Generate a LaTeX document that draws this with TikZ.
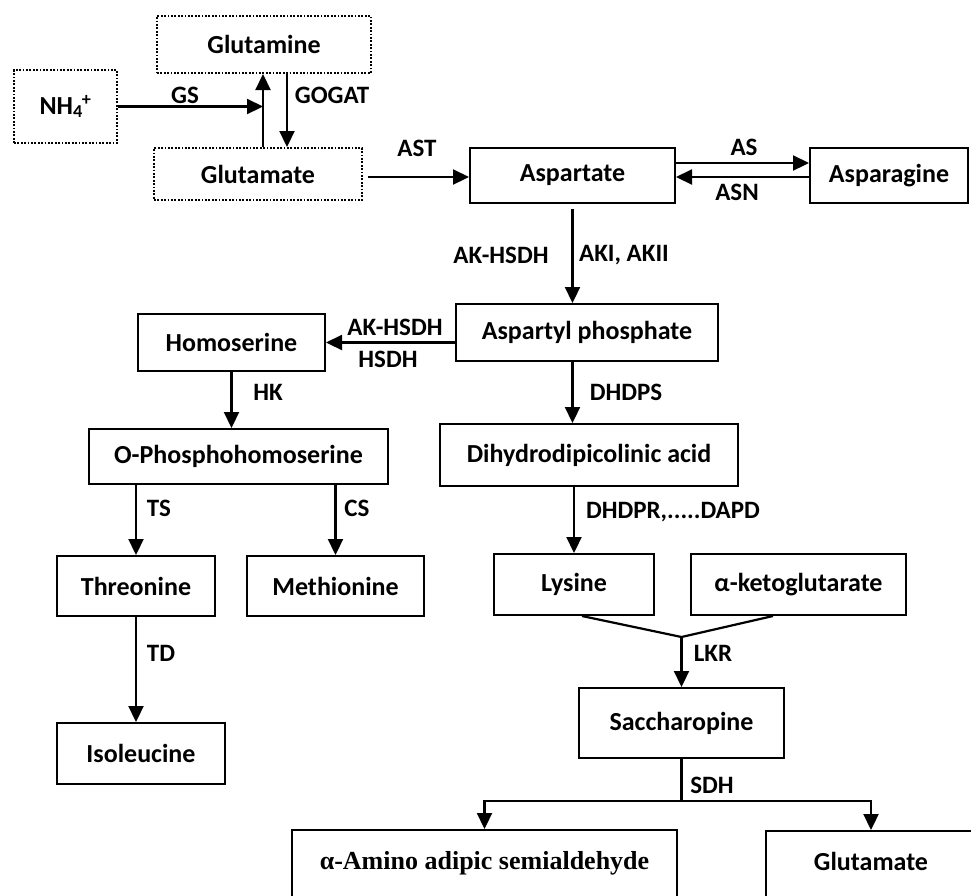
\documentclass[tikz,border=0pt]{standalone}
\usepackage{fontspec}
\setmainfont{Carlito}
\newfontfamily\serifbold{Liberation Serif}
\usetikzlibrary{calc,arrows.meta}

\tikzset{
  box/.style 2 args={draw, line width=2pt, inner sep=0pt, minimum width=#1pt, minimum height=#2pt,
    font=\fontsize{26}{30}\selectfont\bfseries},
  dotbox/.style 2 args={box={#1}{#2}, line width=2pt, dash pattern=on 1.8pt off 1.6pt},
  cutbox/.style 2 args={box={#1}{#2}, text height=18pt, text depth=18pt},
  lbl/.style={inner sep=0pt, font=\fontsize{25}{30}\selectfont\bfseries},
  arr/.style={line width=2.2pt, -{Triangle[width=15pt,length=16pt]}},
  joint/.style={line width=2.2pt}
}

\begin{document}
\begin{tikzpicture}[x=1pt,y=-1pt]
  \clip (0,0) rectangle (971,895);
  % nitrogen assimilation
  \node[dotbox={103}{73}] (nh4) at (65.5,106.5) {NH\textsubscript{4}\kern-1pt\textsuperscript{+}};
  \node[dotbox={214}{57}] (gln) at (264,44.5) {Glutamine};
  \node[dotbox={208}{52}] (glu) at (258,174) {Glutamate};
  \coordinate (gs) at (263,106.5);
  \coordinate (gog) at (287,106.5);
  \draw[arr] (nh4.east) -- (gs);
  \draw[arr] (glu.north -| gs) -- (gln.south -| gs);
  \draw[arr] (gln.south -| gog) -- (glu.north -| gog);
  \node[lbl] at (185,95) {GS};
  \node[lbl] at (332,95) {GOGAT};

  % aspartate and asparagine
  \node[box={205}{55}] (asp) at (572.5,175.5) {Aspartate};
  \node[box={158}{55}] (asn) at (889,175.5) {Asparagine};
  \draw[arr] ([xshift=5pt,yshift=-3pt]glu.east) -- ([yshift=-3pt]asp.west |- glu.east);
  \draw[arr] ([yshift=12.5pt]asp.east) -- ([yshift=12.5pt]asn.west);
  \draw[arr] ([yshift=-1.5pt]asn.west) -- ([yshift=-1.5pt]asp.east);
  \node[lbl] at (417,148) {AST};
  \node[lbl] at (744,147) {AS};
  \node[lbl] at (737,192) {ASN};

  \node[box={262}{57}] (ap) at (587,332.5) {Aspartyl phosphate};
  \draw[arr] ([yshift=-5pt]asp.south) -- (ap.north -| asp.south);
  \node[lbl] at (501,255) {AK-HSDH};
  \node[lbl] at (624,255) {AKI, AKII};

  % threonine / methionine / isoleucine branch
  \node[box={187}{57}] (hse) at (231.5,342.5) {Homoserine};
  \draw[arr] (ap.west |- hse) -- (hse.east);
  \node[lbl] at (395,327) {AK-HSDH};
  \node[lbl] at (388,359) {HSDH};
  \node[box={299}{55}] (oph) at (238.5,456.5) {O-Phosphohomoserine};
  \draw[arr] (hse.south) -- (hse.south |- oph.north);
  \node[lbl] at (268,392) {HK};
  \node[box={158}{60}] (thr) at (136,586) {Threonine};
  \node[box={177}{60}] (met) at (335.5,586) {Methionine};
  \draw[arr] (thr.north |- oph.south) -- (thr.north);
  \draw[arr] (met.north |- oph.south) -- (met.north);
  \node[lbl] at (159,508) {TS};
  \node[lbl] at (357,508) {CS};
  \node[box={168}{61}] (ile) at (141,753.5) {Isoleucine};
  \draw[arr] (thr.south) -- (thr.south |- ile.north);
  \node[lbl] at (161,653) {TD};

  % lysine branch
  \node[box={298}{62}] (dhdp) at (589,455) {Dihydrodipicolinic acid};
  \draw[arr] (ap.south -| asp.south) -- (dhdp.north -| asp.south);
  \node[lbl] at (626,392) {DHDPS};
  \node[box={160}{61}] (lys) at (574,584.5) {Lysine};
  \node[box={215}{61}] (akg) at (798.5,584.5) {α-ketoglutarate};
  \draw[arr] (dhdp.south -| lys.north) -- (lys.north);
  \node[lbl] at (673,512) {DHDPR,.....DAPD};
  \coordinate (lkr) at (681.5,637);
  \draw[joint] ([xshift=8pt]lys.south) -- (lkr) -- ([xshift=-25.5pt]akg.south);
  \node[box={205}{70}] (sac) at (681.5,723) {Saccharopine};
  \draw[arr] (lkr) -- (sac.north);
  \node[lbl] at (713,653) {LKR};
  \coordinate (sdh) at (681.5,801);
  \node[cutbox={385}{78}, font=\serifbold\fontsize{26}{30}\selectfont\bfseries] (aas) at (484.5,869) {α-Amino adipic semialdehyde};
  \node[cutbox={210}{78}] (glu2) at (871,870) {Glutamate};
  \draw[joint] (sac.south) -- (sdh);
  \draw[arr] (sdh) -| (aas.north);
  \draw[arr] (sdh) -| (glu2.north);
  \node[lbl] at (712,785) {SDH};
\end{tikzpicture}
\end{document}
